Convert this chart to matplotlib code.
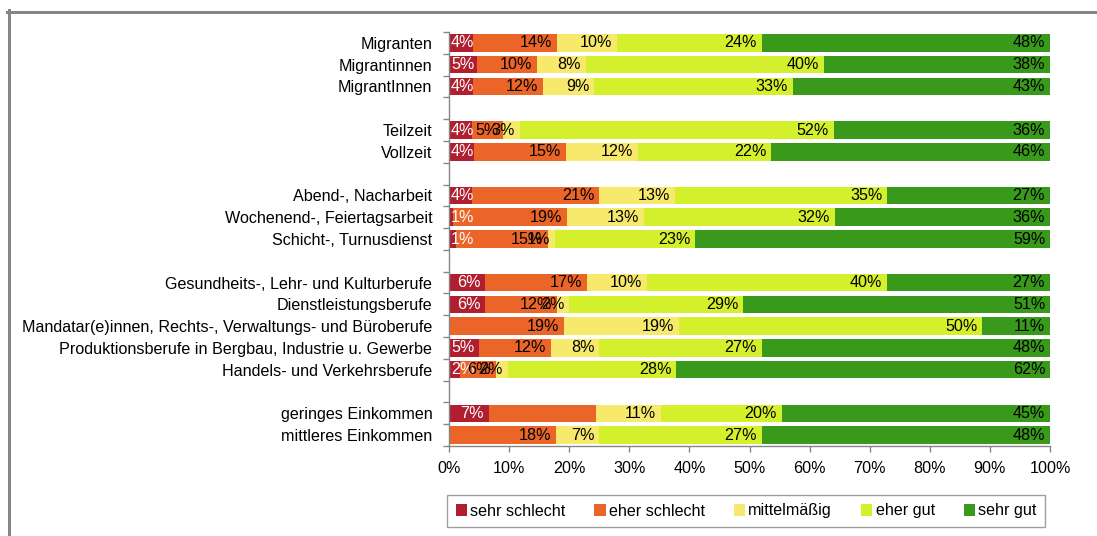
import numpy as np
import matplotlib
matplotlib.use("Agg")
import matplotlib.pyplot as plt
from matplotlib.patches import Patch
from matplotlib.lines import Line2D

plt.rcParams['font.family'] = ['Liberation Sans', 'DejaVu Sans']

# Rows from top to bottom; '' marks a spacer row between groups
categories = [
    "Migranten", "Migrantinnen", "MigrantInnen", "",
    "Teilzeit", "Vollzeit", "",
    "Abend-, Nacharbeit", "Wochenend-, Feiertagsarbeit", "Schicht-, Turnusdienst", "",
    "Gesundheits-, Lehr- und Kulturberufe", "Dienstleistungsberufe",
    "Mandatar(e)innen, Rechts-, Verwaltungs- und Büroberufe",
    "Produktionsberufe in Bergbau, Industrie u. Gewerbe",
    "Handels- und Verkehrsberufe", "",
    "geringes Einkommen", "mittleres Einkommen",
]

series_names = ["sehr schlecht", "eher schlecht", "mittelmäßig", "eher gut", "sehr gut"]

# Shares in percent per row (None = spacer row)
sehr_schlecht = [4.0, 4.7, 4.0, None, 3.8, 4.2, None, 3.9, 0.6, 1.2, None,
                 6.0, 6.0, 0.0, 5.0, 1.8, None, 6.6, 0.0]
eher_schlecht = [14.0, 9.9, 11.6, None, 5.2, 15.2, None, 21.1, 19.0, 15.2, None,
                 17.0, 12.0, 19.1, 12.0, 6.0, None, 17.8, 17.8]
mittelmaessig = [10.0, 8.2, 8.6, None, 2.8, 12.0, None, 12.6, 12.8, 1.2, None,
                 10.0, 2.0, 19.2, 8.0, 2.0, None, 10.8, 7.2]
eher_gut = [24.0, 39.6, 33.0, None, 52.2, 22.2, None, 35.3, 31.8, 23.4, None,
            39.9, 29.0, 50.4, 27.0, 28.0, None, 20.2, 27.0]
sehr_gut = [48.0, 37.6, 42.8, None, 36.0, 46.4, None, 27.1, 35.8, 59.0, None,
            27.1, 51.0, 11.3, 48.0, 62.2, None, 44.6, 48.0]

series_values = [sehr_schlecht, eher_schlecht, mittelmaessig, eher_gut, sehr_gut]
series_colors = ["#B01E2F", "#EB6428", "#F6E96B", "#D4F02C", "#38991A"]
label_colors = ["white", "black", "black", "black", "black"]

# Segments whose value label is left out
hidden_labels = {("geringes Einkommen", "eher schlecht")}

x_ticks = [0, 10, 20, 30, 40, 50, 60, 70, 80, 90, 100]

W, H, DPI = 1097, 536, 100
fig = plt.figure(figsize=(W / DPI, H / DPI), dpi=DPI)
ax = fig.add_axes([449 / W, 1 - 446 / H, (1050 - 449) / W, (446 - 32) / H])

FS = 11.6
ypos = np.arange(len(categories))
left = np.zeros(len(categories))
value_labels = []
for name, vals, col, lcol in zip(series_names, series_values, series_colors, label_colors):
    v = np.array([np.nan if x is None else x for x in vals], dtype=float)
    w = np.nan_to_num(v)
    ax.barh(ypos, w, left=left, height=0.8, color=col, edgecolor='none')
    for i, val in enumerate(v):
        if np.isnan(val) or val <= 0:
            continue
        if (categories[i], name) in hidden_labels:
            continue
        t = ax.annotate(f"{val:.0f}%", xy=(left[i] + w[i], ypos[i]),
                        xytext=(-3.5, 0), textcoords='offset points',
                        ha='right', va='center', fontsize=FS, color=lcol)
        value_labels.append(t)
    left += w

ax.set_xlim(0, 100)
ax.set_ylim(len(categories) - 0.5, -0.5)

ax.set_xticks(x_ticks)
ax.set_xticklabels([f"{t}%" for t in x_ticks], fontsize=FS)
ax.set_yticks(ypos)
ax.set_yticklabels(categories, fontsize=FS)
ax.set_yticks(np.arange(-0.5, len(categories)), minor=True)
ax.tick_params(axis='y', which='major', length=0, pad=12)
ax.tick_params(axis='y', which='minor', length=4, width=1, color='#868686', direction='out')
ax.tick_params(axis='x', which='major', length=4, width=1, color='#868686', direction='out', pad=7)

for s in ['top', 'right']:
    ax.spines[s].set_visible(False)
for s in ['left', 'bottom']:
    ax.spines[s].set_color('#868686')
    ax.spines[s].set_linewidth(1)

# Keep value labels inside the plot area on the left side
renderer = fig.canvas.get_renderer()
x0_px = ax.transData.transform((0, 0))[0]
for t in value_labels:
    bb = t.get_window_extent(renderer)
    if bb.x0 < x0_px + 2:
        dx = (x0_px + 2 - bb.x0) * 72 / DPI
        t.xyann = (t.xyann[0] + dx, t.xyann[1])

handles = [Patch(facecolor=c, edgecolor='none') for c in series_colors]
leg = fig.legend(handles, series_names, loc='center', ncol=5,
                 bbox_to_anchor=(746 / W, 1 - 511 / H), fontsize=FS,
                 frameon=True, fancybox=False, edgecolor='#868686',
                 handlelength=0.7, handleheight=0.7, handletextpad=0.2,
                 columnspacing=1.8, borderpad=0.5)
leg.get_frame().set_linewidth(1)

# Grey outer frame of the chart area
lw = 3 * 72 / DPI
fig.add_artist(Line2D([7 / W, 1], [1 - 11.5 / H, 1 - 11.5 / H], color='#858585',
                      linewidth=lw, transform=fig.transFigure))
fig.add_artist(Line2D([8.5 / W, 8.5 / W], [0, 1 - 10 / H], color='#858585',
                      linewidth=lw, transform=fig.transFigure))

fig.savefig("out.png", dpi=DPI)
